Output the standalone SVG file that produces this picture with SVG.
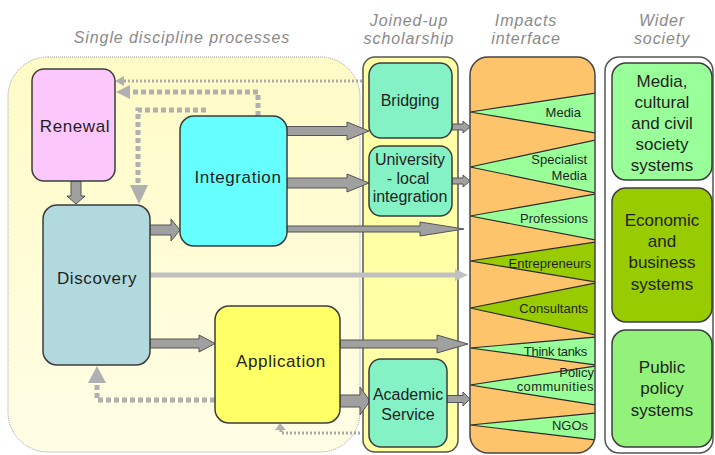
<svg xmlns="http://www.w3.org/2000/svg" width="715" height="455" viewBox="0 0 715 455">
<defs>
<linearGradient id="gy" x1="0" y1="0" x2="0" y2="1">
<stop offset="0" stop-color="#fffbc6"/>
<stop offset="1" stop-color="#fffee6"/>
</linearGradient>
<clipPath id="clipImp"><rect x="470" y="57" width="125" height="396" rx="18"/></clipPath>
</defs>
<style>
text{font-family:"Liberation Sans",Arial,sans-serif;fill:#1f1f1f}
.hdr{font-style:italic;font-size:16px;fill:#8a8a8a;letter-spacing:0.9px;text-anchor:middle}
.box{stroke:#3c3c3c;stroke-width:1.5}
.lbl{font-size:17px;text-anchor:middle;letter-spacing:0.6px}
.lbl2{font-size:16px;text-anchor:middle}
.imp{font-size:13px;text-anchor:end}
.wide{font-size:17px;text-anchor:middle}
.wedge{stroke:#2a2a2a;stroke-width:1.2}
.lg{fill:#99ff99}
.og{fill:#99cc00}
.blk{fill:#a0a0a0;stroke:#555;stroke-width:1}
.dash{fill:none;stroke:#b0b0b0;stroke-width:5;stroke-dasharray:5 3}
.dot{fill:none;stroke:#aaaaaa;stroke-width:3;stroke-dasharray:2 2}
.ah{fill:#b0b0b0}
</style>

<g id="headers">
<text class="hdr" x="182" y="43" font-size="17">Single discipline processes</text>
<text class="hdr" x="409" y="26">Joined-up</text>
<text class="hdr" x="409" y="44">scholarship</text>
<text class="hdr" x="526" y="26">Impacts</text>
<text class="hdr" x="526" y="44">interface</text>
<text class="hdr" x="662" y="26">Wider</text>
<text class="hdr" x="662" y="44">society</text>
</g>

<g id="panel-single">
<rect x="8" y="57" width="352" height="395" rx="40" fill="url(#gy)" stroke="#9a9a9a" stroke-width="1" stroke-dasharray="1 1"/>
</g>
<g id="panel-joined">
<rect x="363" y="57" width="95" height="395" rx="12" fill="#ffffa6" stroke="#555" stroke-width="1.5"/>
</g>
<g id="panel-impacts">
<rect x="470" y="57" width="125" height="396" rx="18" fill="#fec46c"/>
<g clip-path="url(#clipImp)">
<polygon class="wedge lg" points="470,112 596,93 596,133"/>
<polygon class="wedge lg" points="470,167 596,140 596,193"/>
<polygon class="wedge lg" points="470,216 596,194 596,240"/>
<polygon class="wedge og" points="470,261 596,242 596,282"/>
<polygon class="wedge og" points="470,308 596,283 596,335"/>
<polygon class="wedge lg" points="470,348 596,337 596,365"/>
<polygon class="wedge lg" points="470,385 596,366 596,405"/>
<polygon class="wedge lg" points="470,425 596,413 596,440"/>
</g>
<rect x="470" y="57" width="125" height="396" rx="18" fill="none" stroke="#444" stroke-width="1.5"/>
<text class="imp" x="581" y="117">Media</text>
<text class="imp" x="587" y="164">Specialist</text>
<text class="imp" x="587" y="180">Media</text>
<text class="imp" x="588" y="223">Professions</text>
<text class="imp" x="591" y="268">Entrepreneurs</text>
<text class="imp" x="588" y="313">Consultants</text>
<text class="imp" x="587" y="356" letter-spacing="-0.3">Think tanks</text>
<text class="imp" x="594" y="377" font-size="11.5">Policy</text>
<text class="imp" x="594" y="391" font-size="11.5" letter-spacing="0.4">communities</text>
<text class="imp" x="588" y="430">NGOs</text>
</g>
<g id="panel-wider">
<rect x="605" y="57" width="108" height="396" rx="14" fill="#ffffff" stroke="#555" stroke-width="1.5"/>
</g>

<g id="connectors">
<path class="dot" d="M362,81 H122"/>
<polygon class="ah" points="115,81 124,76 124,86"/>
<path class="dash" d="M258,116 V92 H129"/>
<polygon class="ah" points="116,92 130,85 130,99"/>
<path class="dash" d="M206,110 H138 V186"/>
<polygon class="ah" points="130,185 148,185 139,204"/>
<path class="dash" d="M215,400 H97 V382"/>
<polygon class="ah" points="88,383 106,383 97,366"/>
<path class="dot" d="M360,433 H281 V429"/>
<polygon class="ah" points="275,430 286,430 280,423"/>
<polygon class="blk" points="71,181 81,181 81,196 85,196 76,204 67,196 71,196"/>
<polygon class="blk" points="150,225 171,225 171,219 180,230 171,241 171,235 150,235"/>
<polygon class="blk" points="287,126.5 347,126.5 347,122 369,131 347,140 347,135.5 287,135.5"/>
<polygon class="blk" points="287,178 347,178 347,174 369,183 347,192 347,188 287,188"/>
<polygon class="blk" points="287,226 420,226 420,222 464,229 420,236 420,232 287,232"/>
<polygon points="150,272.5 455,272.5 455,269 468,275 455,281 455,277.5 150,277.5" fill="#c0c0c0"/>
<polygon class="blk" points="150,339 199,339 199,335 215,343.5 199,352 199,348 150,348"/>
<polygon class="blk" points="340,340 437,340 437,335 468,344 437,353 437,348 340,348"/>
<polygon class="blk" points="340,395 360,395 360,387 370,401 360,415 360,407 340,407"/>
<polygon class="blk" points="452,124 463,124 463,121 470,127 463,133 463,130 452,130"/>
<polygon class="blk" points="452,178 463,178 463,175 470,181 463,187 463,184 452,184"/>
<polygon class="blk" points="447,395.5 463,395.5 463,392 470,399 463,406 463,402.5 447,402.5"/>
</g>

<g id="renewal">
<rect class="box" x="32" y="69" width="83" height="112" rx="12" fill="#fcc8fc"/>
<text class="lbl" x="75" y="132">Renewal</text>
</g>
<g id="discovery">
<rect class="box" x="43" y="205" width="107" height="160" rx="14" fill="#b2d9de"/>
<text class="lbl" x="97" y="284">Discovery</text>
</g>
<g id="integration">
<rect class="box" x="180" y="116" width="107" height="130" rx="14" fill="#66ffff"/>
<text class="lbl" x="238" y="183">Integration</text>
</g>
<g id="application">
<rect class="box" x="215" y="306" width="125" height="117" rx="14" fill="#ffff66"/>
<text class="lbl" x="281" y="367">Application</text>
</g>
<g id="bridging">
<rect class="box" x="369" y="63" width="83" height="75" rx="12" fill="#85f2c6"/>
<text class="lbl2" x="410" y="106">Bridging</text>
</g>
<g id="university">
<rect class="box" x="369" y="146" width="83" height="70" rx="12" fill="#85f2c6"/>
<text class="lbl2" x="410" y="165" font-size="17">University</text>
<text class="lbl2" x="408" y="184" font-size="17">- local</text>
<text class="lbl2" x="410" y="202" font-size="17">integration</text>
</g>
<g id="academic">
<rect class="box" x="369" y="359" width="78" height="88" rx="12" fill="#85f2c6"/>
<text class="lbl2" x="408" y="400">Academic</text>
<text class="lbl2" x="408" y="420">Service</text>
</g>
<g id="media-systems">
<rect class="box" x="612" y="63" width="100" height="117" rx="14" fill="#99ff99"/>
<text class="wide" x="662" y="87">Media,</text>
<text class="wide" x="662" y="108">cultural</text>
<text class="wide" x="662" y="129">and civil</text>
<text class="wide" x="662" y="150">society</text>
<text class="wide" x="662" y="171">systems</text>
</g>
<g id="economic-systems">
<rect class="box" x="612" y="188" width="100" height="134" rx="14" fill="#99cc00"/>
<text class="wide" x="662" y="226">Economic</text>
<text class="wide" x="662" y="247">and</text>
<text class="wide" x="662" y="268">business</text>
<text class="wide" x="662" y="290">systems</text>
</g>
<g id="public-systems">
<rect class="box" x="612" y="330" width="100" height="117" rx="14" fill="#92f27a"/>
<text class="wide" x="662" y="373">Public</text>
<text class="wide" x="662" y="394">policy</text>
<text class="wide" x="662" y="416">systems</text>
</g>
</svg>
